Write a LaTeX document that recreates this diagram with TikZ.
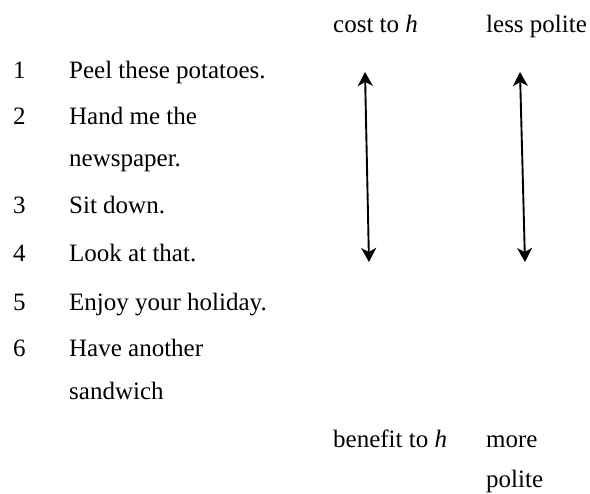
\documentclass[tikz,border=0pt]{standalone}
\usepackage{fontspec}
\setmainfont{Liberation Serif}
\usetikzlibrary{arrows.meta}
\begin{document}
\begin{tikzpicture}[x=1pt,y=-1pt,
  txt/.style={anchor=base west,inner sep=0pt,font=\fontsize{25}{29}\selectfont},
  dbl/.style={{Stealth[length=14pt,width=15pt,inset=4pt]}-{Stealth[length=14pt,width=15pt,inset=4pt]},line width=1.9pt}]
\useasboundingbox (0,0) rectangle (590,494);
% top labels
\node[txt] (cost) at (333,33) {cost to \textit{h}};
\node[txt] (less) at (486,33) {less polite};
% numbers
\node[txt] (n1) at (13,79) {1};
\node[txt] (n2) at (13,125) {2};
\node[txt] (n3) at (13,214) {3};
\node[txt] (n4) at (13,262) {4};
\node[txt] (n5) at (13,311) {5};
\node[txt] (n6) at (13,357) {6};
% items
\node[txt] (t1) at (69,79) {Peel these potatoes.};
\node[txt] (t2a) at (69,125) {Hand me the};
\node[txt] (t2b) at (69,167) {newspaper.};
\node[txt] (t3) at (69,214) {Sit down.};
\node[txt] (t4) at (69,262) {Look at that.};
\node[txt] (t5) at (69,311) {Enjoy your holiday.};
\node[txt] (t6a) at (69,357) {Have another};
\node[txt] (t6b) at (69,400) {sandwich};
% bottom labels
\node[txt] (benefit) at (333,448) {benefit to \textit{h}};
\node[txt] (more) at (486,448) {more};
\node[txt] (polite) at (486,488) {polite};
% arrows
\coordinate (a1t) at (365,72);
\coordinate (a1b) at (369,262);
\coordinate (a2t) at (520,72);
\coordinate (a2b) at (525,262);
\draw[dbl] (a1t) -- (a1b);
\draw[dbl] (a2t) -- (a2b);
\end{tikzpicture}
\end{document}
